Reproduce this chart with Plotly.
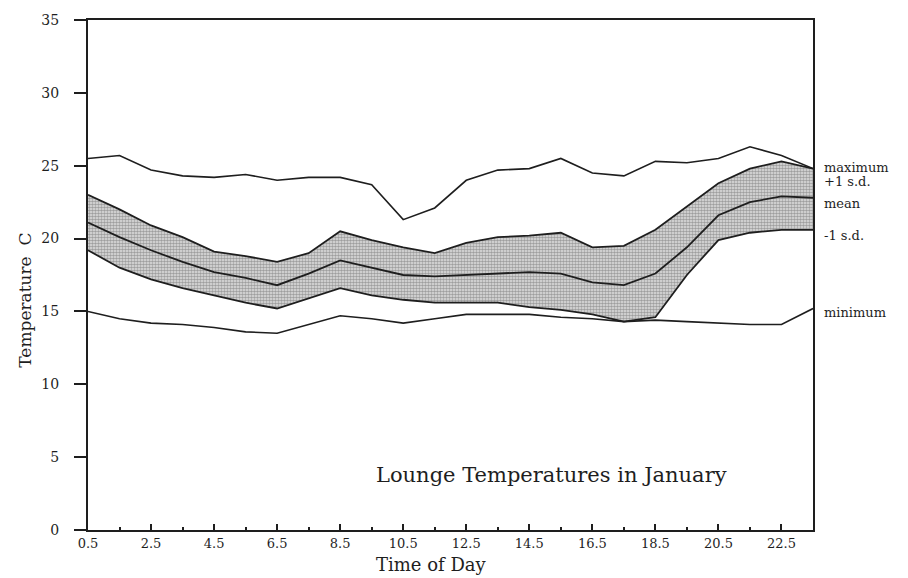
import plotly.graph_objects as go

hours = [0.5, 1.5, 2.5, 3.5, 4.5, 5.5, 6.5, 7.5, 8.5, 9.5, 10.5, 11.5,
         12.5, 13.5, 14.5, 15.5, 16.5, 17.5, 18.5, 19.5, 20.5, 21.5, 22.5, 23.5]
maximum = [25.5, 25.7, 24.7, 24.3, 24.2, 24.4, 24.0, 24.2, 24.2, 23.7, 21.3, 22.1,
           24.0, 24.7, 24.8, 25.5, 24.5, 24.3, 25.3, 25.2, 25.5, 26.3, 25.7, 24.8]
plus_sd = [23.0, 22.0, 20.9, 20.1, 19.1, 18.8, 18.4, 19.0, 20.5, 19.9, 19.4, 19.0,
           19.7, 20.1, 20.2, 20.4, 19.4, 19.5, 20.6, 22.2, 23.8, 24.8, 25.3, 24.8]
mean = [21.1, 20.1, 19.2, 18.4, 17.7, 17.3, 16.8, 17.6, 18.5, 18.0, 17.5, 17.4,
        17.5, 17.6, 17.7, 17.6, 17.0, 16.8, 17.6, 19.4, 21.6, 22.5, 22.9, 22.8]
minus_sd = [19.2, 18.0, 17.2, 16.6, 16.1, 15.6, 15.2, 15.9, 16.6, 16.1, 15.8, 15.6,
            15.6, 15.6, 15.3, 15.1, 14.8, 14.3, 14.6, 17.5, 19.9, 20.4, 20.6, 20.6]
minimum = [15.0, 14.5, 14.2, 14.1, 13.9, 13.6, 13.5, 14.1, 14.7, 14.5, 14.2, 14.5,
           14.8, 14.8, 14.8, 14.6, 14.5, 14.3, 14.4, 14.3, 14.2, 14.1, 14.1, 15.2]

x_ticks = [0.5, 2.5, 4.5, 6.5, 8.5, 10.5, 12.5, 14.5, 16.5, 18.5, 20.5, 22.5]
x_tick_labels = ["0.5", "2.5", "4.5", "6.5", "8.5", "10.5", "12.5", "14.5",
                 "16.5", "18.5", "20.5", "22.5"]
x_minor_ticks = [1.5, 3.5, 5.5, 7.5, 9.5, 11.5, 13.5, 15.5, 17.5, 19.5, 21.5]
y_ticks = [0, 5, 10, 15, 20, 25, 30, 35]

series_labels = ["maximum", "+1 s.d.", "mean", "-1 s.d.", "minimum"]
label_y = [24.85, 23.95, 22.4, 20.2, 14.9]

FONT = "DejaVu Serif"
INK = "#1e1e1e"

fig = go.Figure()
fig.add_trace(go.Scatter(x=hours, y=minus_sd, mode="lines",
                         line=dict(color=INK, width=1.8), showlegend=False))
fig.add_trace(go.Scatter(x=hours, y=plus_sd, mode="lines", fill="tonexty",
                         fillcolor="#b8b8b8",
                         fillpattern=dict(shape=".", size=3, solidity=0.6,
                                          fgcolor="#5a5a5a", bgcolor="#e2e2e2"),
                         line=dict(color=INK, width=1.8), showlegend=False))
fig.add_trace(go.Scatter(x=hours, y=mean, mode="lines",
                         line=dict(color=INK, width=1.8), showlegend=False))
fig.add_trace(go.Scatter(x=hours, y=maximum, mode="lines",
                         line=dict(color=INK, width=1.6), showlegend=False))
fig.add_trace(go.Scatter(x=hours, y=minimum, mode="lines",
                         line=dict(color=INK, width=1.6), showlegend=False))

annotations = []
for lab, yv in zip(series_labels, label_y):
    annotations.append(dict(x=1.012, xref="paper", y=yv, yref="y", text=lab,
                            showarrow=False, xanchor="left", yanchor="middle",
                            font=dict(family=FONT, size=13, color=INK)))
annotations.append(dict(x=15.2, y=3.8, xref="x", yref="y",
                        text="Lounge Temperatures in January", showarrow=False,
                        xanchor="center", yanchor="middle",
                        font=dict(family=FONT, size=21, color=INK)))
annotations.append(dict(x=(431 - 88) / 725, xref="paper", y=-0.068, yref="paper",
                        text="Time of Day", showarrow=False,
                        xanchor="center", yanchor="middle",
                        font=dict(family=FONT, size=18, color=INK)))
annotations.append(dict(x=-0.088, xref="paper", y=0.45, yref="paper",
                        text="Temperature  C", showarrow=False, textangle=-90,
                        xanchor="center", yanchor="middle",
                        font=dict(family=FONT, size=17, color=INK)))

fig.update_layout(
    width=908, height=578,
    margin=dict(l=88, r=95, t=20, b=48),
    paper_bgcolor="white", plot_bgcolor="white",
    font=dict(family=FONT, size=13, color=INK),
    annotations=annotations,
)
fig.update_xaxes(range=[0.5, 23.5], tickvals=x_ticks, ticktext=x_tick_labels,
                 ticks="inside", ticklen=6, tickwidth=1.5, tickcolor=INK,
                 minor=dict(tickvals=x_minor_ticks, ticks="inside",
                            ticklen=3, tickcolor=INK),
                 showline=True, linecolor=INK, linewidth=2, mirror=True,
                 showgrid=False, zeroline=False,
                 tickfont=dict(family=FONT, size=13, color=INK))
fig.update_yaxes(range=[0, 35], tickvals=y_ticks, ticks="outside", ticklen=12,
                 tickwidth=1.5, tickcolor=INK, ticklabelstandoff=12,
                 showline=True, linecolor=INK, linewidth=2, mirror=True,
                 showgrid=False, zeroline=False,
                 tickfont=dict(family=FONT, size=14, color=INK))

fig.write_html("out.html")
